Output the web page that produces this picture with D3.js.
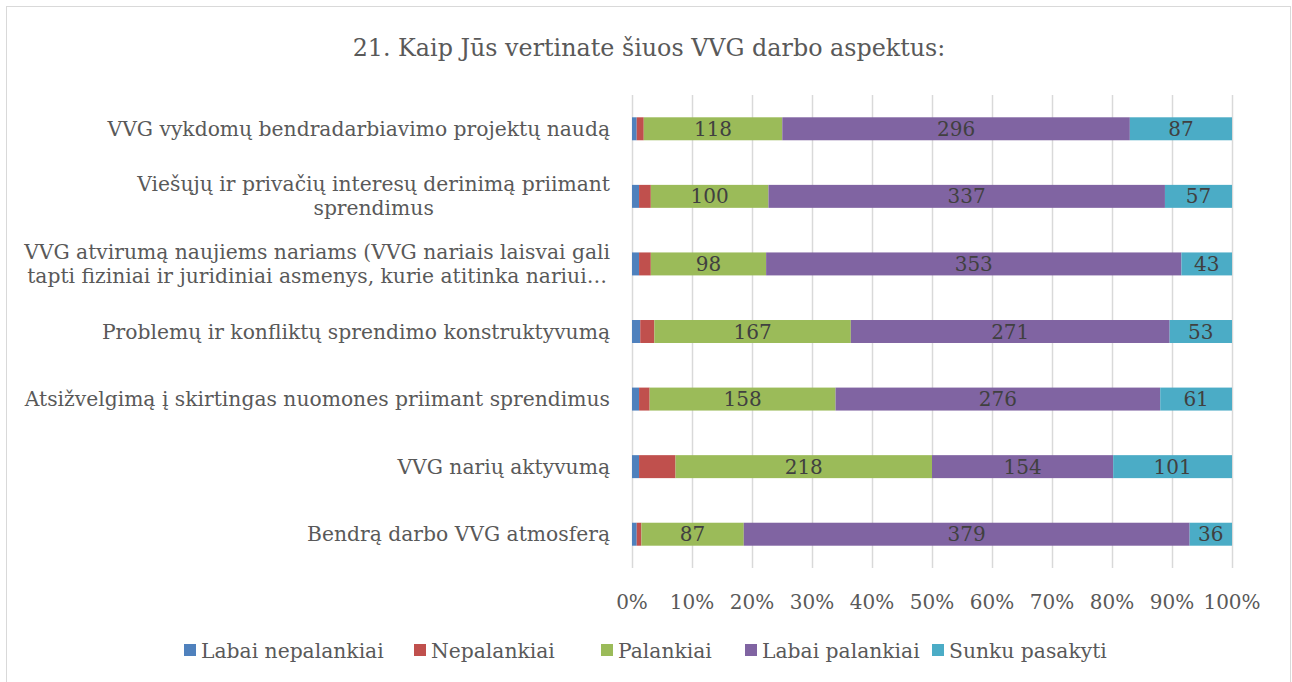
<!DOCTYPE html>
<html>
<head>
<meta charset="utf-8">
<script src="https://cdn.jsdelivr.net/npm/d3@7"></script>
<style>
  body { margin: 0; background: #fff; }
  svg { display: block; }
</style>
</head>
<body>
<svg id="mainSVG" width="1292" height="682"></svg>
<script>
// data
var categories = [
  ["VVG vykdomų bendradarbiavimo projektų naudą"],
  ["Viešųjų ir privačių interesų derinimą priimant", "sprendimus"],
  ["VVG atvirumą naujiems nariams (VVG nariais laisvai gali", "tapti fiziniai ir juridiniai asmenys, kurie atitinka nariui…"],
  ["Problemų ir konfliktų sprendimo konstruktyvumą"],
  ["Atsižvelgimą į skirtingas nuomones priimant sprendimus"],
  ["VVG narių aktyvumą"],
  ["Bendrą darbo VVG atmosferą"]
];
var seriesNames = ["Labai nepalankiai", "Nepalankiai", "Palankiai", "Labai palankiai", "Sunku pasakyti"];
var labaiNepalankiai = [4, 6, 6, 7, 6, 6, 4];
var nepalankiai      = [6, 10, 10, 12, 9, 31, 4];
var palankiai        = [118, 100, 98, 167, 158, 218, 87];
var labaiPalankiai   = [296, 337, 353, 271, 276, 154, 379];
var sunkuPasakyti    = [87, 57, 43, 53, 61, 101, 36];
var tickLabels = ["0%", "10%", "20%", "30%", "40%", "50%", "60%", "70%", "80%", "90%", "100%"];
var colors = ["#4f81bd", "#c0504d", "#9bbb59", "#8064a2", "#4bacc6"];
var showLabels = [false, false, true, true, true];

var font = "'DejaVu Serif', serif";
var svg = d3.select("#mainSVG");

// chart border
svg.append("rect")
  .attr("x", 6.5).attr("y", 6.5)
  .attr("width", 1284).attr("height", 690)
  .attr("fill", "none").attr("stroke", "#d9d9d9");

svg.append("text")
  .attr("x", 649).attr("y", 56)
  .attr("text-anchor", "middle")
  .attr("font-family", font)
  .attr("font-size", 23.8)
  .attr("fill", "#595959")
  .text("21. Kaip Jūs vertinate šiuos VVG darbo aspektus:");

var plotLeft = 632, plotRight = 1232, plotTop = 95, plotBottom = 568;

var series = [labaiNepalankiai, nepalankiai, palankiai, labaiPalankiai, sunkuPasakyti];
var rows = categories.map(function(c, i) {
  var r = { idx: i };
  seriesNames.forEach(function(s, j) { r[s] = series[j][i]; });
  return r;
});
// normalise to 100%
var stacked = d3.stack().keys(seriesNames).offset(d3.stackOffsetExpand)(rows);

var x = d3.scaleLinear().domain([0, 1]).range([plotLeft, plotRight]);
var y = d3.scaleBand().domain(d3.range(categories.length)).range([plotTop, plotBottom]).paddingInner(0.66).paddingOuter(0.33);

// grid
svg.append("g").selectAll("line")
  .data(d3.range(0, 11))
  .enter().append("line")
  .attr("x1", function(d) { return Math.round(x(d / 10)) + 0.5; })
  .attr("x2", function(d) { return Math.round(x(d / 10)) + 0.5; })
  .attr("y1", plotTop).attr("y2", plotBottom)
  .attr("stroke", "#d9d9d9").attr("stroke-width", 1.5);

// bars
var layer = svg.append("g").selectAll("g")
  .data(stacked)
  .enter().append("g")
  .attr("fill", function(d, i) { return colors[i]; });

layer.selectAll("rect")
  .data(function(d) { return d; })
  .enter().append("rect")
  .attr("x", function(d) { return x(d[0]); })
  .attr("width", function(d) { return x(d[1]) - x(d[0]); })
  .attr("y", function(d, i) { return y(i); })
  .attr("height", y.bandwidth());

// data labels
stacked.forEach(function(s, j) {
  if (!showLabels[j]) return;
  svg.append("g").selectAll("text")
    .data(s)
    .enter().append("text")
    .attr("x", function(d) { return (x(d[0]) + x(d[1])) / 2; })
    .attr("y", function(d, i) { return y(i) + y.bandwidth() / 2 + 7; })
    .attr("text-anchor", "middle")
    .attr("font-family", font)
    .attr("font-size", 20)
    .attr("fill", "#404040")
    .text(function(d, i) { return series[j][i]; });
});

// category labels (wrapped lines centred inside a right-aligned block)
var catG = svg.append("g");
categories.forEach(function(lines, i) {
  var cy = y(i) + y.bandwidth() / 2;
  var g = catG.append("g");
  var t = g.selectAll("text").data(lines).enter().append("text")
    .attr("font-family", font)
    .attr("font-size", 20.3)
    .attr("fill", "#595959")
    .attr("text-anchor", "middle")
    .attr("y", function(d, k) { return cy + 7 + (k - (lines.length - 1) / 2) * 24; })
    .text(function(d) { return d; });
  var w = d3.max(t.nodes(), function(n) { return n.getComputedTextLength(); });
  t.attr("x", 610 - w / 2);
});

// x axis tick labels
svg.append("g").selectAll("text")
  .data(tickLabels)
  .enter().append("text")
  .attr("x", function(d, i) { return x(i / 10); })
  .attr("y", 609)
  .attr("text-anchor", "middle")
  .attr("font-family", font)
  .attr("font-size", 20)
  .attr("fill", "#595959")
  .text(function(d) { return d; });

// legend
var legendX = [184, 414, 601, 745, 932];
var leg = svg.append("g").selectAll("g")
  .data(seriesNames)
  .enter().append("g")
  .attr("transform", function(d, i) { return "translate(" + legendX[i] + ",644)"; });
leg.append("rect")
  .attr("width", 12).attr("height", 12)
  .attr("fill", function(d, i) { return colors[i]; });
leg.append("text")
  .attr("x", 17).attr("y", 14)
  .attr("font-family", font)
  .attr("font-size", 20.3)
  .attr("fill", "#595959")
  .text(function(d) { return d; });
</script>
</body>
</html>
